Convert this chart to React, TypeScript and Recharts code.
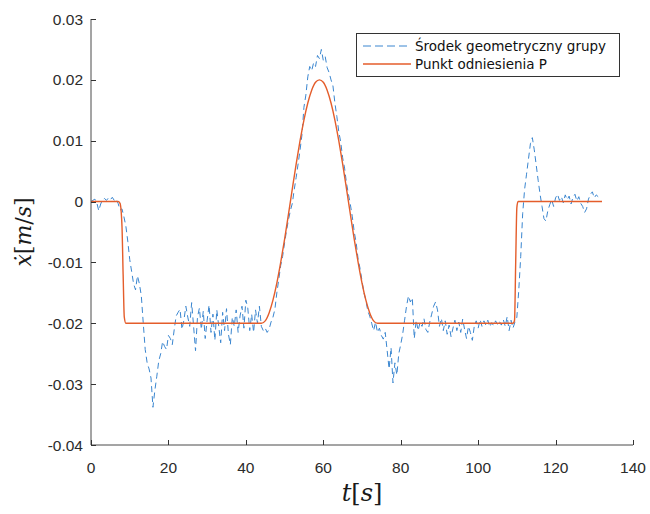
import { Legend, Line, LineChart, XAxis, YAxis } from 'recharts';

// blue: measured centroid velocity, sampled every 0.5 s from t = 0
const BLUE_STEP = 0.5;
const blueValues = [
  0, 0.0002, 0.0004, -0.0002, -0.0015, -0.0004, 0.0003, 0.0005, 0.0002, 0.0006,
  0.0003, 0.0007, 0.0002, 0.0004, -0.0003, -0.0014, -0.0012, -0.0025, -0.004, -0.0065,
  -0.0095, -0.0115, -0.0135, -0.0145, -0.0122, -0.0135, -0.0155, -0.02, -0.0243, -0.0265,
  -0.0275, -0.029, -0.0338, -0.031, -0.0287, -0.0262, -0.025, -0.023, -0.0238, -0.0243,
  -0.022, -0.0225, -0.0235, -0.021, -0.0188, -0.0182, -0.0177, -0.021, -0.0195, -0.0172,
  -0.019, -0.0205, -0.0166, -0.0205, -0.0245, -0.019, -0.0175, -0.021, -0.018, -0.0225,
  -0.0195, -0.017, -0.0215, -0.0185, -0.0228, -0.0178, -0.0205, -0.0232, -0.0182, -0.0212,
  -0.0176, -0.0218, -0.0235, -0.019, -0.0205, -0.0178, -0.0215, -0.0188, -0.0172, -0.0208,
  -0.0162, -0.0175, -0.0212, -0.0185, -0.0215, -0.0178, -0.02, -0.0172, -0.0205, -0.0212,
  -0.0208, -0.0215, -0.021, -0.0198, -0.019, -0.0177, -0.015, -0.0128, -0.0105, -0.009,
  -0.0068, -0.0048, -0.003, -0.0015, -0.0003, 0.002, 0.004, 0.0062, 0.0085, 0.011,
  0.0155, 0.0175, 0.0205, 0.0222, 0.0215, 0.0228, 0.0222, 0.024, 0.0235, 0.025,
  0.0232, 0.0238, 0.022, 0.0212, 0.02, 0.019, 0.0162, 0.014, 0.0115, 0.0098,
  0.0072, 0.0055, 0.003, 0.0012, -0.0005, -0.0025, -0.005, -0.0068, -0.0095, -0.011,
  -0.013, -0.015, -0.0162, -0.018, -0.0188, -0.02, -0.0212, -0.0198, -0.0215, -0.0208,
  -0.022, -0.0226, -0.0215, -0.0245, -0.0275, -0.024, -0.0298, -0.0265, -0.0285, -0.025,
  -0.0235, -0.0218, -0.0195, -0.0172, -0.0155, -0.0165, -0.0158, -0.0225, -0.0195, -0.0212,
  -0.0198, -0.0205, -0.0192, -0.021, -0.0215, -0.0198, -0.0185, -0.0172, -0.0165, -0.0178,
  -0.0205, -0.0192, -0.0212, -0.0196, -0.0218, -0.0203, -0.0222, -0.0208, -0.0195, -0.0212,
  -0.0198, -0.0215, -0.0193, -0.021, -0.0225, -0.0205, -0.0215, -0.0228, -0.0205, -0.0196,
  -0.0208, -0.0194, -0.0205, -0.0196, -0.0203, -0.0195, -0.0206, -0.0199, -0.0204, -0.0196,
  -0.0202, -0.0197, -0.0203, -0.0194, -0.0205, -0.0189, -0.0212, -0.0195, -0.0208, -0.0198,
  -0.019, -0.0145, -0.009, -0.002, 0.002, 0.0045, 0.007, 0.0095, 0.0105, 0.0085,
  0.006, 0.0035, 0.0012, -0.0008, -0.0028, -0.0032, -0.0015, -0.0005, 0.0003, -0.0008,
  0.0006, 0.0012, 0.0002, 0.0008, -0.0002, 0.0011, 0.0003, 0.0009, -0.0004, 0.0007,
  0.0012, 0.0001, 0.0008, -0.0003, -0.0008, -0.0018, -0.0012, 0.0004, 0.0012, 0.0016,
  0.0006, 0.0011, 0.0008,
];

// orange: reference point P
const orangeTimes = [
  0, 7, 7.5, 8, 8.3, 8.6, 9, 43, 44, 45, 46, 47, 48, 49, 50, 51, 52, 53, 54, 55, 56, 57, 58, 59,
  60, 61, 62, 63, 64, 65, 66, 67, 68, 69, 70, 71, 72, 73, 74, 109, 109.4, 109.7, 110, 110.3, 132,
];
const orangeValues = [
  0, 0, -0.0003, -0.004, -0.012, -0.019, -0.02, -0.02, -0.02, -0.0196, -0.0183, -0.0162, -0.0134,
  -0.01, -0.0062, -0.0021, 0.0021, 0.0062, 0.01, 0.0134, 0.0162, 0.0183, 0.0196, 0.02,
  0.0196, 0.0183, 0.0162, 0.0134, 0.01, 0.0062, 0.0021, -0.0021, -0.0062, -0.01, -0.0134, -0.0162,
  -0.0183, -0.0196, -0.02, -0.02, -0.0195, -0.01, -0.001, 0, 0,
];

const xTicks = [0, 20, 40, 60, 80, 100, 120, 140];
const yTicks = [-0.04, -0.03, -0.02, -0.01, 0, 0.01, 0.02, 0.03];
const seriesNames = ['Środek geometryczny grupy', 'Punkt odniesienia P'];

const BLUE = '#3a86d0';
const ORANGE = '#e45d2b';
const AXIS = '#4a4a4a';
const TICK_MARK = '#333';
const TICK_LEN = 5;
const X_MARGIN = 17;
const Y_MARGIN = 8;
const tickText = { fontSize: 15.5, fill: '#2b2b2b', fontFamily: '"Liberation Sans", Arial, sans-serif' };

const blueData = blueValues.map((v, i) => ({ t: i * BLUE_STEP, v }));
const orangeData = orangeTimes.map((t, i) => ({ t, v: orangeValues[i] }));

const mathFont = { fontFamily: '"DejaVu Serif", serif', fill: '#1a1a1a' };

// snap a 1px line onto the pixel grid so short ticks stay sharp
const px = (v: number) => Math.round(v) + 0.5;

// MATLAB-style inward ticks: the mark goes into the plot, the label sits outside
function BottomTick(props: any) {
  const { x, y, payload } = props;
  const axisY = y - X_MARGIN;
  return (
    <g>
      <path d={`M${px(x)},${axisY}V${axisY - TICK_LEN}`} stroke={TICK_MARK} strokeWidth={1} fill="none" />
      <text x={x} y={y} dy="0.71em" textAnchor="middle" {...tickText}>
        {payload.value}
      </text>
    </g>
  );
}

function LeftTick(props: any) {
  const { x, y, payload } = props;
  const axisX = x + Y_MARGIN;
  return (
    <g>
      <path d={`M${axisX},${px(y)}H${axisX + TICK_LEN}`} stroke={TICK_MARK} strokeWidth={1} fill="none" />
      <text x={x} y={y} dy="0.355em" textAnchor="end" {...tickText}>
        {payload.value === 0 ? '0' : String(payload.value)}
      </text>
    </g>
  );
}

function TopTick(props: any) {
  const { x, y } = props;
  return <path d={`M${px(x)},${y}V${y + TICK_LEN}`} stroke={TICK_MARK} strokeWidth={1} fill="none" />;
}

function RightTick(props: any) {
  const { x, y } = props;
  return <path d={`M${x},${px(y)}H${x - TICK_LEN}`} stroke={TICK_MARK} strokeWidth={1} fill="none" />;
}

function XTitle(props: any) {
  const vb = props.viewBox;
  return (
    <text x={vb.x + vb.width / 2} y={vb.y + 56} textAnchor="middle" fontSize={24} {...mathFont}>
      <tspan fontStyle="italic">t</tspan>
      <tspan>[</tspan>
      <tspan fontStyle="italic">s</tspan>
      <tspan>]</tspan>
    </text>
  );
}

function YTitle(props: any) {
  const vb = props.viewBox;
  const cx = 31;
  const cy = vb.y + vb.height / 2;
  return (
    <text x={cx} y={cy} textAnchor="middle" transform={`rotate(-90 ${cx} ${cy})`} fontSize={22} {...mathFont}>
      <tspan fontStyle="italic">ẋ</tspan>
      <tspan>[</tspan>
      <tspan fontStyle="italic">m</tspan>
      <tspan>/</tspan>
      <tspan fontStyle="italic">s</tspan>
      <tspan>]</tspan>
    </text>
  );
}

function LegendBox() {
  const row = (i: number) => (
    <div key={i} style={{ display: 'flex', alignItems: 'center', height: 18 }}>
      <svg width={56} height={18}>
        <line
          x1={6}
          x2={54}
          y1={9}
          y2={9}
          stroke={i === 0 ? BLUE : ORANGE}
          strokeWidth={i === 0 ? 1 : 1.4}
          strokeDasharray={i === 0 ? '8 4' : undefined}
        />
      </svg>
      <span style={{ marginLeft: 2 }}>{seriesNames[i]}</span>
    </div>
  );
  return (
    <div
      style={{
        boxSizing: 'border-box',
        width: 264,
        height: 44,
        border: '1px solid #333',
        background: '#fff',
        padding: '3px 0 0 0',
        fontFamily: '"DejaVu Sans", Verdana, sans-serif',
        fontSize: 13.5,
        color: '#111',
        lineHeight: '18px',
      }}
    >
      {row(0)}
      {row(1)}
    </div>
  );
}

export default function App() {
  return (
    <div style={{ position: 'absolute', left: 0, top: 0, background: '#fff' }}>
      <LineChart width={650} height={514} margin={{ top: 19, right: 17, bottom: 0, left: 0 }}>
        <XAxis
          dataKey="t"
          type="number"
          domain={[0, 140]}
          ticks={xTicks}
          allowDataOverflow
          height={69}
          tickSize={0}
          tickMargin={X_MARGIN}
          tickLine={false}
          tick={BottomTick}
          stroke={AXIS}
          label={{ content: XTitle }}
        />
        <XAxis
          xAxisId="top"
          orientation="top"
          type="number"
          domain={[0, 140]}
          ticks={xTicks}
          height={0}
          tickSize={0}
          tickMargin={0}
          tickLine={false}
          tick={TopTick}
          stroke={AXIS}
        />
        <YAxis
          type="number"
          domain={[-0.04, 0.03]}
          ticks={yTicks}
          allowDataOverflow
          width={91}
          tickSize={0}
          tickMargin={Y_MARGIN}
          tickLine={false}
          tick={LeftTick}
          stroke={AXIS}
          label={{ content: YTitle }}
        />
        <YAxis
          yAxisId="right"
          orientation="right"
          type="number"
          domain={[-0.04, 0.03]}
          ticks={yTicks}
          width={0}
          tickSize={0}
          tickMargin={0}
          tickLine={false}
          tick={RightTick}
          stroke={AXIS}
        />
        <Legend
          layout="vertical"
          align="center"
          verticalAlign="middle"
          wrapperStyle={{ position: 'absolute', left: 356, top: 33, width: 264, height: 44 }}
          content={LegendBox}
        />
        <Line
          data={blueData}
          dataKey="v"
          type="linear"
          dot={false}
          stroke={BLUE}
          strokeWidth={1}
          strokeDasharray="6 4"
          isAnimationActive={false}
        />
        <Line
          data={orangeData}
          dataKey="v"
          type="monotone"
          dot={false}
          stroke={ORANGE}
          strokeWidth={1.4}
          isAnimationActive={false}
        />
      </LineChart>
    </div>
  );
}
